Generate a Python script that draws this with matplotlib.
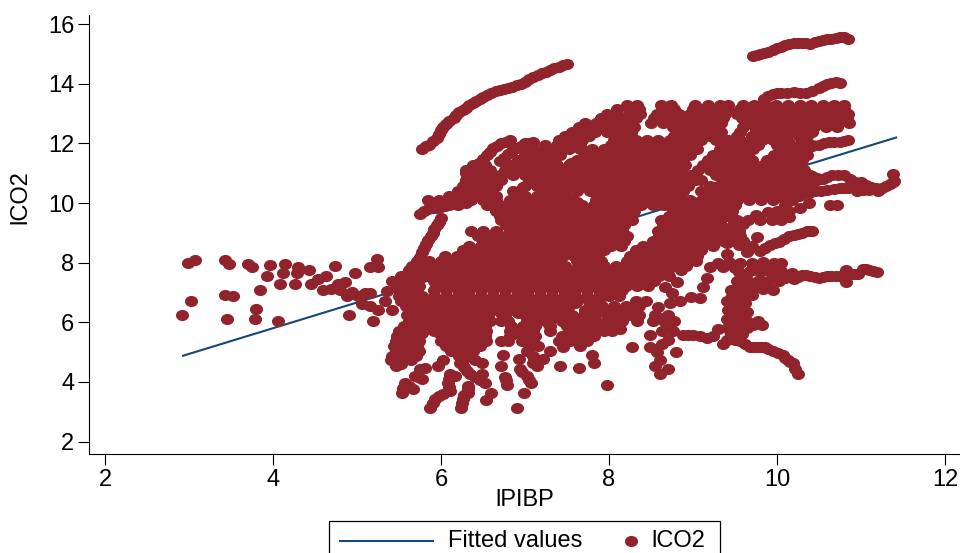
import numpy as np
import matplotlib
matplotlib.use('Agg')
import matplotlib.pyplot as plt
from matplotlib.lines import Line2D
from matplotlib.markers import MarkerStyle
from matplotlib.patches import Rectangle
from matplotlib.transforms import Affine2D

plt.rcParams['font.family'] = ['Liberation Sans', 'DejaVu Sans']

# fitted line end points
fit_x = [2.93, 11.42]
fit_y = [4.88, 12.2]

# points, the solid mass is read row by row
left_tail = [(2.92,6.23),(3.02,6.73),(2.99,8.0),(3.07,8.1),(3.43,8.1),(3.48,7.97),(3.43,6.93),(3.52,6.9),
             (3.45,6.1),(3.7,7.97),(3.75,7.87),(3.96,7.94),(3.93,7.57),(3.85,7.1),(3.8,6.46),(3.79,6.1),
             (4.06,6.03),(4.14,7.97),(4.12,7.67),(4.08,7.3),(4.3,7.87),(4.29,7.67),(4.26,7.3),(4.43,7.74),
             (4.45,7.27),(4.54,7.44),(4.63,7.57),(4.74,7.9),(4.6,7.1),(4.69,7.13),(4.77,7.3),(4.86,7.34),
             (4.8,7.07),(4.88,6.87),(4.98,7.64),(4.9,6.26),(4.94,7.03),(5.01,6.87),(5.1,6.97),(5.15,7.0),
             (5.24,8.14),(5.15,7.87),(5.25,7.84),(5.19,6.06),(5.25,6.4),(5.33,6.73),(5.42,6.4),(5.15,6.56),
             (5.06,6.63),(5.36,7.05),(5.5,7.1)]

top_arms = [(5.78,11.83),(5.86,11.95),(5.95,12.2),(6.0,12.45),(6.06,12.65),(6.15,12.85),(6.22,13.05),
            (6.3,13.2),(6.38,13.35),(6.46,13.5),(6.55,13.62),(6.65,13.75),(6.75,13.82),(6.85,13.9),
            (6.95,14.0),(7.05,14.15),(7.15,14.3),(7.25,14.4),(7.35,14.52),(7.45,14.62),(7.5,14.65),
            (5.82,11.9),(5.9,12.08),(5.98,12.33),(6.03,12.55),(6.1,12.75),(6.18,12.95),(6.26,13.12),
            (6.34,13.28),(6.42,13.42),(6.5,13.56),(6.6,13.68),(6.7,13.78),(6.8,13.86),(6.9,13.95),
            (7.0,14.07),(7.1,14.22),(7.2,14.35),(7.3,14.46),(7.4,14.57),
            (9.72,14.92),(9.8,15.0),(9.9,15.08),(10.0,15.2),(10.1,15.3),(10.2,15.37),(10.3,15.38),
            (10.4,15.35),(10.5,15.43),(10.6,15.5),(10.7,15.55),(10.8,15.57),(10.85,15.5),
            (9.76,14.96),(9.85,15.04),(9.95,15.14),(10.05,15.25),(10.15,15.33),(10.25,15.38),(10.35,15.36),
            (10.45,15.39),(10.55,15.46),(10.65,15.52),(10.75,15.56),
            (9.85,13.5),(9.95,13.65),(10.05,13.7),(10.2,13.72),(10.35,13.68),(10.5,13.85),(10.6,14.0),
            (10.7,14.05),(10.75,14.03),(9.9,13.58),(10.0,13.68),(10.12,13.71),(10.28,13.7),(10.42,13.76),
            (10.55,13.92),(10.65,14.03),
            (5.75,9.65),(5.85,9.8),(5.95,9.85),(6.05,9.9),(6.15,10.0),(6.25,10.05),(6.35,10.2),
            (5.8,9.72),(5.9,9.83),(6.0,9.88),(6.1,9.95),(6.2,10.02),(6.3,10.12),
            (6.3,11.0),(6.38,11.2),(6.45,11.35),(6.55,11.6),(6.62,11.85),(6.72,12.0),(6.82,12.1),
            (6.34,11.1),(6.42,11.28),(6.5,11.48),(6.58,11.72),(6.67,11.93),(6.77,12.05),
            (6.7,11.4),(6.8,11.65),(6.9,11.85),(7.0,12.0),(7.1,12.05),
            (6.75,11.52),(6.85,11.75),(6.95,11.93),(7.05,12.03),
            (6.0,9.5),(5.95,9.25),(5.9,9.0),(5.85,8.75),(5.8,8.5),(5.75,8.2),
            (5.98,9.38),(5.92,9.12),(5.88,8.88),(5.82,8.62),(5.78,8.35)]

right_arms = [(8.88,5.56),(9.0,5.59),(9.17,5.49),(9.3,5.79),(9.36,5.29),(9.44,5.49),(9.56,5.36),(9.68,5.16),
              (9.76,5.16),(9.86,5.16),(9.95,5.03),(10.07,4.89),(10.13,4.72),(10.19,4.62),(10.25,4.28),
              (8.94,5.58),(9.08,5.55),(9.24,5.55),(9.4,5.4),(9.5,5.42),(9.62,5.26),(9.72,5.16),(9.81,5.16),
              (9.9,5.1),(10.01,4.96),(10.1,4.8),(10.16,4.67),(10.22,4.45),
              (9.4,6.7),(9.5,6.7),(9.62,6.65),(9.42,6.4),(9.55,6.4),(9.65,6.35),(9.4,6.1),(9.52,6.1),
              (9.65,6.05),(9.78,6.05),(9.4,5.8),(9.52,5.8),(9.65,5.8),(9.82,5.9),(9.45,5.6),(9.58,5.62),
              (9.48,6.55),(9.6,6.5),(9.46,6.25),(9.58,6.22),(9.46,5.95),(9.58,5.95),(9.72,5.92),(9.52,5.5),
              (9.6,7.2),(9.72,7.3),(9.85,7.35),(9.97,7.5),(10.1,7.5),(10.2,7.45),(10.3,7.6),(10.4,7.55),
              (10.5,7.5),(10.6,7.55),(10.7,7.55),(10.8,7.55),(10.82,7.75),(10.82,7.35),(10.89,7.63),
              (10.97,7.62),(11.02,7.8),(11.1,7.75),(11.19,7.68),
              (10.25,7.52),(10.35,7.58),(10.45,7.52),(10.55,7.52),(10.65,7.55),(10.75,7.55),(10.93,7.62),
              (11.06,7.78),(11.15,7.72),
              (9.3,8.0),(9.43,8.02),(9.56,7.98),(9.7,8.0),(9.83,8.03),(9.97,7.98),(10.05,8.0),
              (9.55,7.7),(9.68,7.72),(9.8,7.68),(9.93,7.7),(10.05,7.72),(10.18,7.66),
              (9.52,7.4),(9.65,7.42),(9.78,7.38),(9.9,7.4),(10.03,7.4),
              (9.45,7.1),(9.58,7.08),(9.7,7.1),(9.83,7.12),(9.95,7.08),
              (9.46,6.9),(9.58,6.88),(9.7,6.92),(9.36,7.85),(9.5,7.82),(9.62,7.55),(9.75,7.85),(9.9,7.85),
              (9.4,8.3),(9.55,8.6),(9.65,8.35),(9.76,8.85),(9.8,8.4),(9.92,8.6),(10.03,8.7),(10.15,8.9),
              (10.25,8.95),(10.36,9.05),(10.42,9.08),
              (9.98,8.65),(10.09,8.8),(10.2,8.92),(10.3,9.0),(10.39,9.07),(9.7,8.55),(9.86,8.5),
              (9.6,9.3),(9.75,9.6),(9.9,9.7),(10.05,9.6),(10.15,9.55),(10.27,9.85),(10.38,10.0),
              (10.63,9.92),(10.72,9.93),
              (10.3,10.6),(10.42,10.9),(10.55,10.8),(10.66,10.95),(10.8,10.95),(10.93,10.7),(11.0,10.7),
              (11.12,10.55),(11.25,10.5),(11.35,10.65),(11.4,10.75),(11.38,10.97),
              (10.36,10.75),(10.48,10.85),(10.6,10.88),(10.73,10.95),(10.87,10.82),(11.06,10.62),(11.18,10.52),
              (11.3,10.57),(11.38,10.7),(10.38,10.35),(10.52,10.42),(10.68,10.48),(10.8,10.5),(10.9,10.6),
              (11.03,10.45),(11.2,10.4),
              (10.3,10.3),(10.45,10.4),(10.6,10.45),(10.75,10.5),(10.85,10.5),(10.95,10.4),(11.1,10.45),
              (10.35,11.9),(10.5,11.95),(10.62,12.05),(10.75,12.05),(10.85,12.1),
              (10.42,11.92),(10.56,12.0),(10.68,12.05),(10.8,12.08),
              (8.67,7.2),(8.75,6.97),(8.73,6.66),(8.85,6.72),(8.98,6.85),(9.08,6.8),(9.12,7.17),(9.17,7.5),
              (8.81,7.34),(9.2,7.85)]

lower_fringe = [(5.47,4.55),(5.75,4.45),(5.81,4.48),(5.96,4.55),(6.02,4.72),(5.69,4.21),(5.77,4.11),(5.57,3.95),
                (5.67,3.77),(5.54,3.63),(6.11,4.28),(6.17,4.21),(6.08,3.95),(6.11,3.71),(6.03,3.61),(5.93,3.44),
                (5.87,3.14),(6.32,3.88),(6.32,3.64),(6.26,3.44),(6.24,3.14),(6.23,4.62),(6.31,4.38),(6.4,4.15),
                (6.52,3.98),(6.6,3.64),(6.54,3.41),(6.49,4.28),(6.49,4.65),(6.74,4.92),(6.93,4.78),(6.71,4.52),
                (6.76,4.18),(6.79,3.91),(6.99,3.64),(6.9,3.11),(7.07,3.95),(7.02,4.21),(6.94,4.45),(7.14,4.55),
                (7.21,4.78),(7.3,5.05),(7.45,5.16),(7.65,5.22),(8.27,5.16),(7.8,4.92),(7.82,4.65),(7.42,4.55),
                (7.64,4.48),(7.98,3.91),(8.13,5.79),
                (8.49,5.56),(8.63,5.72),(8.73,5.96),(8.61,6.16),(8.58,6.53),(8.49,5.16),(8.57,4.99),(8.63,5.29),
                (8.7,5.41),(8.8,5.02),(8.61,4.72),(8.55,4.52),(8.61,4.28),(8.7,4.45),(8.76,5.72),
                (5.98,3.52),(5.9,3.28),(6.28,3.55),(6.25,3.28),(6.32,3.76),(5.55,3.8),(5.62,3.86),(5.73,4.16),
                (6.1,4.1),(6.1,3.83),(6.27,4.5),(6.35,4.26),(6.46,4.06),(6.97,4.33),(7.05,4.08),(6.77,4.05),
                (7.1,4.62),(5.52,4.6)]

# small pieces that close gaps inside the mass
mass_patches = [(6.82,10.1),(6.9,10.3),(6.98,10.55),(7.05,10.76),(6.62,10.75),(6.75,11.0),(7.55,10.15),(7.62,10.05),
                (7.45,10.15),(7.85,10.35)]

core_y = [13.3, 13.0, 12.7, 12.4, 12.1, 11.8, 11.45, 11.1, 10.76, 10.42, 10.09, 9.75, 9.42, 9.08, 8.74,
          8.41, 8.07, 7.74, 7.4, 7.07, 6.73, 6.4, 6.06, 5.72, 5.39, 5.05, 4.72]
core_x = [
    [8.22,8.33,8.62,8.74,9.02,9.18,9.32,9.42,9.6,9.73,9.86,9.99,10.13,10.27,10.41,10.55,10.68,10.8],
    [7.98,8.1,8.24,8.37,8.57,8.7,8.83,8.97,9.1,9.24,9.38,9.52,9.66,9.8,9.93,10.07,10.2,10.35,10.49,10.62,10.76,10.85],
    [7.72,7.85,7.98,8.12,8.22,8.5,8.64,8.78,8.92,9.05,9.19,9.33,9.62,9.75,9.89,10.03,10.17,10.31,10.45,10.59,10.73,10.86],
    [7.56,7.7,7.84,7.98,8.12,8.26,8.82,8.96,9.1,9.24,9.33,9.56,9.75,9.89,10.03,10.17,10.3,10.42],
    [7.4,7.54,7.68,8.06,8.2,8.32,8.45,8.59,8.73,8.87,9.0,9.1,9.28,9.42,9.56,9.82,9.95,10.05,10.3],
    [7.1,7.24,7.38,7.52,7.66,7.8,7.94,8.08,8.22,8.36,8.5,8.64,8.78,8.92,9.05,9.32,9.46,9.6,9.72,10.08,10.22,10.36],
    [6.92,7.06,7.2,7.34,7.62,7.76,7.9,8.04,8.18,8.32,8.46,8.6,8.74,8.88,9.18,9.32,9.46,9.6,9.7,9.88,10.02,10.16,10.3],
    [6.3,6.44,6.58,6.76,6.9,7.04,7.18,7.32,7.46,7.6,7.74,7.88,8.02,8.16,8.3,8.44,8.58,8.72,8.86,9.06,9.2,9.34,9.48,9.62,9.76,9.9,10.04,10.18,10.32],
    [6.3,6.44,6.58,6.72,7.06,7.2,7.34,7.48,7.62,7.76,7.9,8.04,8.18,8.32,8.46,8.6,8.74,8.88,9.02,9.1,9.36,9.5,9.64,9.78,9.92,10.06,10.2,10.34,10.48],
    [6.2,6.34,6.48,6.6,6.86,7.2,7.34,7.48,7.62,7.78,7.92,8.06,8.2,8.34,8.48,8.62,8.76,8.88,9.1,9.24,9.38,9.52,9.66,9.8,9.94,10.08,10.22,10.36],
    [5.85,5.98,6.12,6.22,6.36,6.5,6.66,6.96,7.1,7.24,7.38,7.85,7.99,8.13,8.27,8.41,8.55,8.69,8.83,8.97,9.11,9.25,9.39,9.53,9.67,9.81,9.95,10.1,10.18],
    [6.66,6.8,6.94,7.08,7.22,7.36,7.5,7.64,7.78,7.92,8.06,8.2,8.3,8.76,8.9,9.04,9.18,9.32,9.46,10.0,10.14],
    [6.72,6.86,7.0,7.14,7.28,7.42,7.56,7.7,7.84,7.98,8.12,8.28,8.62,8.76,8.9,9.04,9.18,9.32,9.52,9.66,9.8,9.94,10.05],
    [6.36,6.5,6.66,6.82,6.96,7.1,7.24,7.38,7.52,7.66,7.8,7.94,8.08,8.15,8.58,8.72,8.86,9.0,9.14,9.28,9.42,9.55],
    [6.5,6.64,6.78,6.92,7.06,7.2,7.34,7.48,7.62,7.76,7.9,8.04,8.18,8.52,8.66,8.8,8.94,9.08,9.22,9.36,9.5,9.6],
    [6.26,6.4,6.54,6.68,6.82,6.96,7.1,7.24,7.38,7.52,7.66,7.8,7.94,8.32,8.46,8.6,8.74,8.88,9.02,9.1],
    [5.72,5.86,6.0,6.14,6.28,6.42,6.56,6.7,6.84,6.98,7.12,7.26,7.42,7.62,7.76,7.9,8.22,8.36,8.5,8.64,8.78,8.92,9.04],
    [5.62,5.76,5.9,6.04,6.18,6.32,6.46,6.6,6.74,6.88,7.02,7.16,7.3,7.44,7.58,7.72,7.86,8.0,8.14,8.28,8.42,8.56,8.7,8.86],
    [5.42,5.56,5.72,5.92,6.06,6.2,6.34,6.48,6.62,6.76,6.9,7.04,7.18,7.32,7.46,7.6,7.74,7.88,8.02,8.16,8.3,8.44,8.54],
    [5.56,5.72,5.92,6.06,6.2,6.34,6.48,6.62,6.76,6.9,7.04,7.18,7.32,7.46,7.6,7.74,7.88,8.02,8.16],
    [5.52,5.66,5.8,5.94,6.08,6.22,6.36,6.5,6.64,6.78,6.92,7.06,7.2,7.34,7.48,7.62,7.76,7.88,8.32,8.44],
    [5.62,5.76,5.9,6.04,6.18,6.32,6.46,6.54,6.68,6.82,6.96,7.1,7.24,7.38,7.48,7.72,7.86,8.0,8.14,8.24],
    [5.62,5.76,5.9,6.04,6.18,6.32,6.46,6.58,6.72,6.8,7.02,7.16,7.3,7.44,7.58,7.72,7.84,8.02,8.16,8.33,8.52,8.66,8.78],
    [5.5,5.64,5.78,5.92,6.06,6.2,6.34,6.48,6.54,6.82,6.96,7.1,7.3,7.52,7.66,7.8,7.94,8.04],
    [5.46,5.6,5.74,6.0,6.14,6.28,6.42,6.54,6.72,6.8,6.96,7.1,7.4,7.54,7.68,7.74],
    [5.46,5.6,5.74,6.12,6.26,6.38,7.02],
    [5.4,5.52,5.64,6.26,6.4],
]

# rows that sit between the ones above
mid_y = [13.15, 12.85, 12.55, 12.25, 11.95, 11.62, 11.28, 10.93, 10.59, 10.25, 9.92, 9.58, 9.25, 8.91, 8.57,
         8.24, 7.9, 7.57, 7.23, 6.9, 6.56, 6.23, 5.89, 5.55, 5.22, 4.88]
mid_x = [
    [8.1,8.24,8.36,8.65,8.78,9.0,9.12,9.26,9.4,9.56,9.7,9.84,9.97,10.1,10.24,10.38,10.52,10.66,10.8],
    [7.9,8.04,8.18,8.32,8.54,8.68,8.82,8.96,9.1,9.24,9.36,9.58,9.72,9.86,10.0,10.14,10.28,10.42,10.56,10.7,10.84],
    [7.64,7.78,7.92,8.06,8.2,8.3,8.76,8.9,9.04,9.18,9.3,9.6,9.74,9.88,10.02,10.16,10.3,10.44,10.58,10.72],
    [7.48,7.62,7.76,8.12,8.26,8.78,8.92,9.06,9.2,9.3,9.52,9.7,9.84,9.98,10.12,10.26,10.36],
    [7.24,7.38,7.52,7.66,8.02,8.16,8.3,8.44,8.58,8.72,8.86,9.0,9.38,9.52,9.66,9.78,10.0,10.14,10.28,10.42],
    [7.0,7.14,7.28,7.42,7.72,7.86,8.0,8.14,8.28,8.42,8.56,8.7,8.84,8.96,9.24,9.38,9.52,9.66,9.96,10.1,10.24,10.36],
    [6.38,6.52,6.82,6.96,7.1,7.24,7.38,7.52,7.66,7.8,7.94,8.08,8.22,8.36,8.5,8.64,8.78,8.9,9.12,9.26,9.4,9.54,9.68,9.84,9.98,10.12,10.26],
    [6.32,6.46,6.6,6.7,6.86,7.0,7.14,7.28,7.42,7.56,7.7,7.84,7.98,8.12,8.26,8.4,8.54,8.68,8.82,8.96,9.28,9.42,9.56,9.7,9.84,9.98,10.12,10.26,10.4],
    [6.26,6.4,6.54,6.66,7.0,7.14,7.28,7.42,7.56,7.7,7.84,7.98,8.12,8.26,8.4,8.54,8.68,8.82,8.94,9.2,9.3,9.44,9.58,9.72,9.86,10.0,10.14,10.28,10.42],
    [6.1,6.24,6.38,6.52,6.66,7.0,7.14,7.28,7.42,7.86,8.0,8.14,8.28,8.42,8.56,8.7,8.84,9.14,9.28,9.42,9.56,9.7,9.84,9.98,10.12,10.26],
    [5.9,6.04,6.2,6.55,6.7,6.84,6.98,7.12,7.26,7.4,7.54,7.68,7.82,7.96,8.1,8.24,8.38,8.52,8.66,8.8,8.94,9.08,9.22,9.36,9.5,10.1],
    [6.7,6.84,6.98,7.12,7.26,7.4,7.54,7.68,7.82,7.96,8.1,8.24,8.72,8.86,9.0,9.14,9.28,9.42],
    [6.78,6.92,7.06,7.2,7.34,7.48,7.62,7.76,7.9,8.04,8.18,8.64,8.78,8.92,9.06,9.2,9.34,9.48],
    [6.44,6.58,6.72,6.86,7.0,7.14,7.28,7.42,7.56,7.7,7.84,7.98,8.12,8.22,8.6,8.74,8.88,9.02,9.16,9.3,9.44,9.56],
    [6.34,6.48,6.62,6.76,6.9,7.04,7.18,7.32,7.46,7.6,7.74,7.88,8.02,8.14,8.4,8.54,8.68,8.82,8.96,9.1,9.24],
    [6.05,6.19,6.33,6.47,6.61,6.75,6.89,7.03,7.17,7.31,7.45,7.59,7.73,7.87,8.25,8.39,8.53,8.67,8.81,8.95,9.05],
    [5.66,5.8,5.94,6.08,6.22,6.36,6.5,6.64,6.78,6.92,7.06,7.2,7.34,7.48,7.66,7.8,7.94,8.08,8.22,8.36,8.5,8.64,8.78,8.92],
    [5.52,5.66,5.8,5.94,6.08,6.22,6.36,6.5,6.64,6.78,6.92,7.06,7.2,7.34,7.48,7.62,7.76,7.9,8.04,8.18,8.32,8.46,8.6,8.72],
    [5.48,5.62,5.74,5.96,6.1,6.24,6.38,6.52,6.66,6.8,6.94,7.08,7.22,7.36,7.5,7.64,7.78,7.92,8.06,8.2,8.34,8.46],
    [5.5,5.64,5.78,5.92,6.06,6.2,6.34,6.48,6.62,6.76,6.9,7.04,7.18,7.32,7.46,7.6,7.74,7.88,8.0,8.12],
    [5.58,5.72,5.86,6.0,6.14,6.28,6.42,6.56,6.7,6.84,6.98,7.12,7.26,7.4,7.52,7.78,7.92,8.06,8.2,8.36],
    [5.6,5.74,5.88,6.02,6.16,6.3,6.44,6.56,6.76,7.0,7.14,7.28,7.42,7.56,7.7,7.84,7.98,8.1,8.24,8.36,8.55,8.7],
    [5.56,5.7,5.84,5.98,6.12,6.26,6.4,6.52,6.84,6.98,7.12,7.3,7.5,7.64,7.78,7.92,8.02],
    [5.48,5.62,5.74,6.1,6.24,6.38,6.52,6.82,6.98,7.12,7.44,7.58,7.72,7.82],
    [5.44,5.58,5.72,6.06,6.2,6.34,6.46,7.06,7.16],
    [5.42,5.56,5.7,6.22,6.36,7.1],
]

# a few more rows where the mass is solid
fill_y = [12.0, 11.35, 10.68, 10.0, 9.33, 8.66, 8.0, 7.32, 6.65, 6.3, 5.97, 5.63]
fill_x = [
    [7.45,7.6,8.25,8.45,8.65,8.85,9.45,9.6,10.15,10.3],
    [7.15,7.35,7.55,7.75,7.95,8.15,8.35,8.55,8.75,9.25,9.45,9.65,9.95,10.15],
    [6.35,6.55,7.15,7.35,7.55,7.75,7.95,8.15,8.35,8.55,8.75,8.95,9.4,9.6,9.8,10.0,10.2,10.4],
    [6.3,6.55,7.05,7.3,7.9,8.1,8.3,8.5,8.7,8.9,9.1,9.3,9.48],
    [6.85,7.05,7.25,7.45,7.65,7.85,8.05,8.7,8.9,9.1,9.3],
    [6.6,6.8,7.0,7.2,7.4,7.6,7.8,8.0,8.6,8.8,9.0,9.2,9.4],
    [5.8,6.0,6.2,6.4,6.6,6.8,7.0,7.2,7.7,7.85,8.3,8.5,8.7,8.9],
    [5.5,5.95,6.15,6.35,6.55,6.75,6.95,7.15,7.35,7.55,7.75,7.95,8.15,8.35],
    [5.6,5.8,6.0,6.2,6.4,6.6,6.8,7.0,7.2,7.4,7.6,7.8],
    [5.7,5.9,6.1,6.3,6.5,6.72,6.92,7.12,7.32,7.78,7.98,8.18],
    [5.68,5.88,6.08,6.28,6.48,7.08,7.28,7.48,7.68,7.88],
    [5.58,5.78,5.98,6.18,6.38,6.9,7.05,7.6,7.8],
]

x_ticks = [2, 4, 6, 8, 10, 12]
y_ticks = [2, 4, 6, 8, 10, 12, 14, 16]

maroon = '#90232b'
navy = '#14487a'

# put all the groups together
pts = left_tail + top_arms + right_arms + lower_fringe + mass_patches
for yy, xs in zip(core_y + mid_y + fill_y, core_x + mid_x + fill_x):
    pts = pts + [(xx, yy) for xx in xs]
pts = np.array(pts)

fig = plt.figure(figsize=(9.6, 5.53), dpi=100)
ax = fig.add_axes([89/960, 1 - 453.5/553, 871/960, 438.5/553])

# reference markers are a bit wider than tall
dot = MarkerStyle('o', transform=Affine2D().scale(1.18, 1))

ax.plot(fit_x, fit_y, color=navy, lw=1.5, zorder=2)
ax.scatter(pts[:, 0], pts[:, 1], s=64, marker=dot, color=maroon, linewidths=0, zorder=3)

ax.set_xlim(1.81, 12.18)
ax.set_ylim(1.6, 16.31)
ax.set_xticks(x_ticks)
ax.set_yticks(y_ticks)
ax.spines['top'].set_visible(False)
ax.spines['right'].set_visible(False)
ax.tick_params(axis='both', labelsize=17, length=8, width=0.8)
ax.tick_params(axis='y', pad=2.5)
ax.tick_params(axis='x', pad=3)
ax.set_xlabel('lPIBP', fontsize=17, labelpad=-1)
ax.set_ylabel('lCO2', fontsize=17)
ax.yaxis.set_label_coords(-58/871, (453.5-197)/438.5)

# legend box runs off the bottom of the figure, so it is drawn by hand
def fx(px):
    return px / 960
def fy(py):
    return 1 - py / 553

fig.add_artist(Rectangle((fx(329), fy(570)), 391/960, 49/553, transform=fig.transFigure,
                         facecolor='white', edgecolor='black', lw=0.9))
fig.add_artist(Line2D([fx(340), fx(433)], [fy(541), fy(541)], transform=fig.transFigure, color=navy, lw=1.5))
fig.add_artist(Line2D([fx(631)], [fy(541)], transform=fig.transFigure, linestyle='none', marker=dot,
                      markersize=8, color=maroon, markeredgewidth=0))
fig.text(fx(448), fy(541), 'Fitted values', fontsize=17, va='center', ha='left')
fig.text(fx(651), fy(541), 'lCO2', fontsize=17, va='center', ha='left')

fig.savefig('out.png', dpi=100)
